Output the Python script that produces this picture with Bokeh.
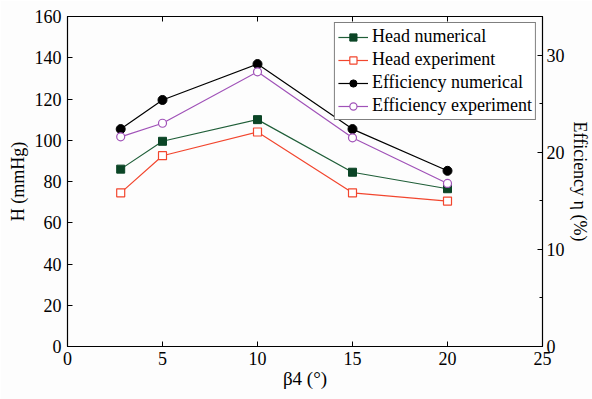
from bokeh.plotting import figure
from bokeh.models import (LinearAxis, Range1d, SingleIntervalTicker, Legend, LegendItem,
                          FixedTicker)
from bokeh.embed import file_html
from bokeh.resources import INLINE

# Data
beta4 = [2.8, 5, 10, 15, 20]
head_num = [86, 99.5, 110, 84.5, 76.5]
head_exp = [74.5, 92.5, 104, 74.5, 70.5]
eff_num = [22.4, 25.4, 29.1, 22.4, 18.1]
eff_exp = [21.6, 23.0, 28.3, 21.5, 16.8]

x_ticks = [0, 5, 10, 15, 20, 25]
h_ticks = [0, 20, 40, 60, 80, 100, 120, 140, 160]

FONT = "Liberation Serif"

p = figure(width=592, height=399, output_backend="svg", toolbar_location=None,
           x_range=Range1d(0, 25), y_range=Range1d(0, 160),
           min_border_left=67, min_border_right=48, min_border_top=16, min_border_bottom=53)
p.background_fill_color = "#fdfdfd"
p.border_fill_color = "#fdfdfd"
p.outline_line_color = "black"
p.outline_line_width = 1.2
p.grid.visible = False

p.extra_y_ranges = {"eff": Range1d(0, 34)}

GREEN = "#1f5e38"
GREEN_M = "#0b4526"
RED = "#f2462e"
PURPLE = "#a052b8"

l1 = p.line(beta4, head_num, line_color=GREEN, line_width=1.2)
s1 = p.scatter(beta4, head_num, marker="square", size=8, fill_color=GREEN_M, line_color=GREEN_M)
l2 = p.line(beta4, head_exp, line_color=RED, line_width=1.2)
s2 = p.scatter(beta4, head_exp, marker="square", size=8, fill_color="white", line_color=RED, line_width=1.2)
l3 = p.line(beta4, eff_num, line_color="black", line_width=1.2, y_range_name="eff")
s3 = p.scatter(beta4, eff_num, marker="circle", size=9, fill_color="black", line_color="black", y_range_name="eff")
l4 = p.line(beta4, eff_exp, line_color=PURPLE, line_width=1.2, y_range_name="eff")
s4 = p.scatter(beta4, eff_exp, marker="circle", size=8, fill_color="white", line_color=PURPLE, line_width=1.2, y_range_name="eff")

def style_axis(ax):
    ax.major_tick_in = 5
    ax.major_tick_out = 0
    ax.minor_tick_in = 0
    ax.minor_tick_out = 0
    ax.major_tick_line_color = "black"
    ax.axis_line_color = "black"
    ax.major_label_text_font = FONT
    ax.major_label_text_font_size = "18px"
    ax.major_label_text_color = "black"
    ax.axis_label_text_font = FONT
    ax.axis_label_text_font_size = "18px"
    ax.axis_label_text_font_style = "normal"
    ax.axis_label_text_color = "black"

# bottom
xa = p.xaxis[0]
xa.ticker = FixedTicker(ticks=x_ticks)
xa.axis_label = "β4 (°)"
style_axis(xa)
xa.axis_label_text_font_size = "19px"
xa.major_label_standoff = 5
xa.axis_label_standoff = 0

# left
ya = p.yaxis[0]
ya.ticker = FixedTicker(ticks=h_ticks)
ya.axis_label = "H (mmHg)"
style_axis(ya)
ya.major_label_standoff = 6
ya.axis_label_standoff = 4

# right
ra = LinearAxis(y_range_name="eff", ticker=SingleIntervalTicker(interval=10, num_minor_ticks=2),
                axis_label="Efficiency η (%)")
style_axis(ra)
ra.minor_tick_in = 3
ra.minor_tick_line_color = "black"
ra.major_label_standoff = 4
ra.axis_label_standoff = 2
p.add_layout(ra, "right")

# top (mirror ticks)
ta = LinearAxis(ticker=FixedTicker(ticks=x_ticks))
style_axis(ta)
ta.major_label_overrides = {t: "" for t in x_ticks}
ta.major_label_standoff = 0
p.add_layout(ta, "above")

legend = Legend(items=[
    LegendItem(label="Head numerical", renderers=[l1, s1]),
    LegendItem(label="Head experiment", renderers=[l2, s2]),
    LegendItem(label="Efficiency numerical", renderers=[l3, s3]),
    LegendItem(label="Efficiency experiment", renderers=[l4, s4]),
], location="top_right")
legend.label_text_font = FONT
legend.label_text_font_size = "18px"
legend.label_text_color = "black"
legend.glyph_width = 30
legend.glyph_height = 18
legend.label_height = 18
legend.spacing = 2
legend.padding = 3
legend.margin = 6
legend.label_standoff = 4
legend.border_line_color = "black"
legend.border_line_width = 1.2
legend.background_fill_color = "white"
legend.background_fill_alpha = 1
p.add_layout(legend, "center")

open("out.html", "w").write(file_html(p, INLINE))
